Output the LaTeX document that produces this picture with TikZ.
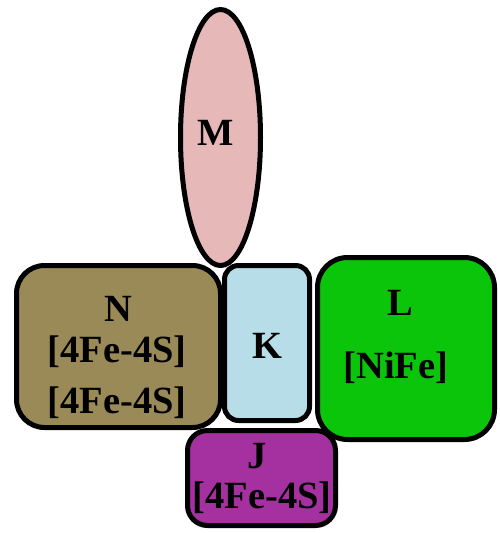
\documentclass[tikz,border=0pt]{standalone}
\usepackage{fontspec}
\setmainfont{Liberation Serif}
\usetikzlibrary{shapes.geometric}
\definecolor{npart}{HTML}{9A8A58}
\definecolor{kpart}{HTML}{B7DDE8}
\definecolor{lpart}{HTML}{0BC50B}
\definecolor{jpart}{HTML}{A5309F}
\definecolor{mpart}{HTML}{E6B8B7}
\tikzset{
  part/.style={draw=black, line width=5pt, inner sep=0pt},
  lbl/.style={font=\fontsize{38.5}{42}\selectfont\bfseries, anchor=base, inner sep=0pt, text=black},
}
\begin{document}
\begin{tikzpicture}[x=1pt,y=-1pt]
\useasboundingbox (0,0) rectangle (499,533);
% J
\node[part, fill=jpart, rounded corners=20pt, minimum width=148pt, minimum height=95pt] (J) at (261.5,478) {};
% N
\node[part, fill=npart, rounded corners=28pt, minimum width=204pt, minimum height=162pt] (N) at (118.5,346.5) {};
% K
\node[part, fill=kpart, rounded corners=14pt, minimum width=85pt, minimum height=155pt] (K) at (267,343) {};
% L
\node[part, fill=lpart, rounded corners=30pt, minimum width=177pt, minimum height=182pt] (L) at (406,348.5) {};
% M
\node[part, fill=mpart, ellipse, minimum width=80pt, minimum height=256pt] (M) at (220.5,137.5) {};
% labels
\node[lbl] (Mt) at (216,145) {M};
\node[lbl] (Nt1) at (118,321) {N};
\node[lbl] (Nt2) at (117,362) {[4Fe-4S]};
\node[lbl] (Nt3) at (117,413) {[4Fe-4S]};
\node[lbl] (Kt) at (267,358) {K};
\node[lbl] (Lt1) at (400,315) {L};
\node[lbl] (Lt2) at (396,378) {[NiFe]};
\node[lbl] (Jt1) at (257,468) {J};
\node[lbl] (Jt2) at (262,508) {[4Fe-4S]};
\end{tikzpicture}
\end{document}
